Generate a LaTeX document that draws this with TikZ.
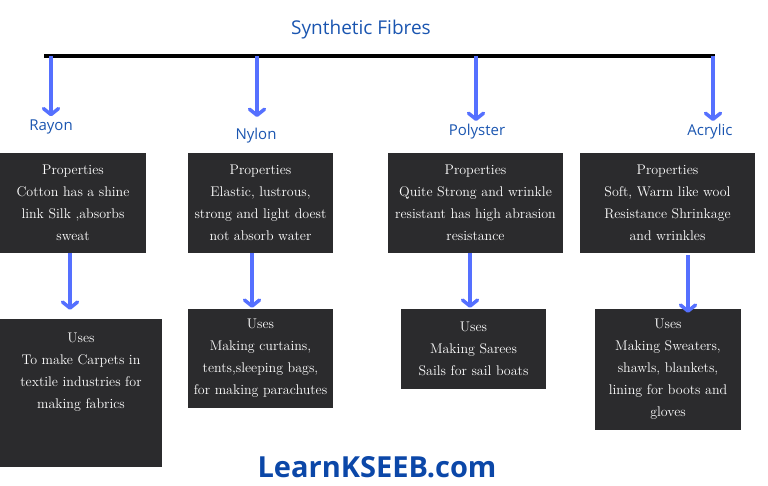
\documentclass[tikz,border=0pt]{standalone}
\usepackage{fontspec}
\newfontfamily\plexfont{Open Sans}
\usetikzlibrary{arrows.meta}
\definecolor{boxgray}{HTML}{2B2B2D}
\definecolor{arrowblue}{HTML}{5570FF}
\definecolor{titleblue}{HTML}{1A55B0}
\definecolor{siteblue}{HTML}{0B47A8}

\begin{document}
\begin{tikzpicture}[x=1pt,y=-1pt,
    fibre/.style={font=\plexfont\fontsize{15}{17}\selectfont,text=titleblue},
    infobox/.style={fill=boxgray,text=white,align=center,inner sep=0pt,
      font=\fontsize{14}{22}\selectfont},
    link/.style={arrowblue,line width=3.5pt,
      -{Straight Barb[round,length=6pt,width=15pt]}}]
  \useasboundingbox (0,0) rectangle (768,485);
  \node (title) at (361,30) [font=\plexfont\fontsize{19}{21}\selectfont,text=titleblue]
    {Synthetic Fibres};
  \coordinate (bar-w) at (44,56); \coordinate (bar-e) at (715,56);
  \draw[line width=4pt] (bar-w) -- (bar-e);
  % fibre names
  \node[fibre] (rayon) at (51,127) {Rayon};
  \node[fibre] (nylon) at (256,136) {Nylon};
  \node[fibre] (polyster) at (477,132) {Polyster};
  \node[fibre] (acrylic) at (710,132) {Acrylic};
  % properties
  \node[infobox,minimum width=146,minimum height=100] (p-rayon) at (73,203)
    {Properties\\Cotton has a shine\\link Silk ,absorbs\\sweat};
  \node[infobox,minimum width=145,minimum height=100] (p-nylon) at (260.5,203)
    {Properties\\Elastic, lustrous,\\strong and light doest\\not absorb water};
  \node[infobox,minimum width=175,minimum height=100] (p-polyster) at (475.5,203)
    {Properties\\Quite Strong and wrinkle\\resistant has high abrasion\\resistance};
  \node[infobox,minimum width=175,minimum height=100] (p-acrylic) at (667.5,203)
    {Properties\\Soft, Warm like wool\\Resistance Shrinkage\\and wrinkles};
  % uses
  \node[infobox,minimum width=162,minimum height=148] (u-rayon) at (81,393)
    {Uses\\To make Carpets in\\textile industries for\\making fabrics\\[22pt]~};
  \node[infobox,minimum width=145,minimum height=99] (u-nylon) at (260.5,358.5)
    {Uses\\Making curtains,\\tents,sleeping bags,\\for making parachutes};
  \node[infobox,minimum width=145,minimum height=80] (u-polyster) at (473.5,349)
    {Uses\\Making Sarees\\Sails for sail boats};
  \node[infobox,minimum width=146,minimum height=121] (u-acrylic) at (668,369.5)
    {Uses\\Making Sweaters,\\shawls, blankets,\\lining for boots and\\gloves};
  \node (site) at (377,467) [font=\plexfont\bfseries\fontsize{29}{32}\selectfont,text=siteblue]
    {LearnKSEEB.com};
  % arrows
  \coordinate (x1) at (51,0); \coordinate (x2) at (257,0);
  \coordinate (x3) at (476,0); \coordinate (x4) at (713,0);
  \coordinate (y1) at (70,0); \coordinate (y2) at (252,0);
  \coordinate (y3) at (470,0); \coordinate (y4) at (688,0);
  \path[link] (bar-w -| x1) edge (rayon.north -| x1)
    (bar-w -| x2) edge[shorten >=8pt] (nylon.north -| x2)
    (bar-w -| x3) edge (polyster.north -| x3)
    (bar-w -| x4) edge (acrylic.north -| x4);
  \path[link] (p-rayon.south -| y1) edge[shorten >=9pt] (u-rayon.north -| y1)
    (p-nylon.south -| y2) edge[shorten >=1pt] (u-nylon.north -| y2)
    (p-polyster.south -| y3) edge[shorten >=1pt] (u-polyster.north -| y3)
    (p-acrylic.south -| y4) edge[shorten <=2pt,shorten >=-4pt] (u-acrylic.north -| y4);
\end{tikzpicture}
\end{document}
